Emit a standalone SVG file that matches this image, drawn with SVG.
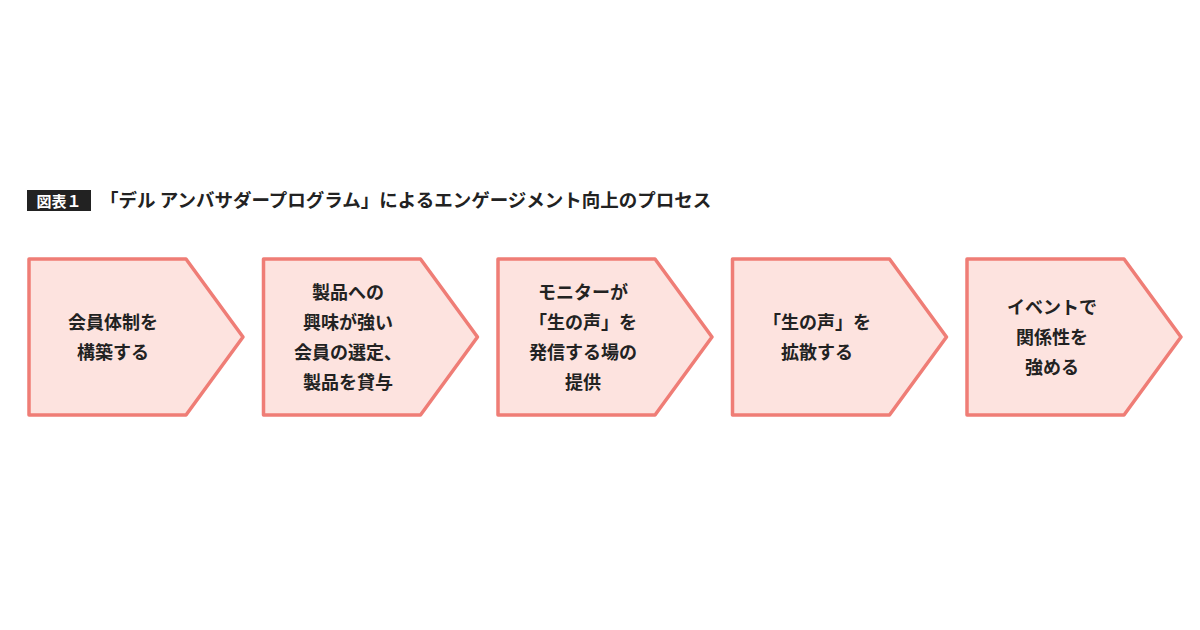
<svg xmlns="http://www.w3.org/2000/svg" width="1200" height="630" viewBox="0 0 1200 630">
<style>
.n{fill:#fde3df;stroke:#ef7d76;stroke-width:3.5;stroke-linejoin:round}
.t{font-family:"Noto Sans CJK JP",sans-serif;font-weight:bold;font-size:18px;fill:#222;text-anchor:middle}
</style>
<rect width="1200" height="630" fill="#fff"/>
<g id="title">
<rect x="27" y="190" width="64" height="21" fill="#222"/>
<text x="59" y="206.5" font-family="Noto Sans CJK JP,sans-serif" font-weight="bold" font-size="15" fill="#fff" text-anchor="middle">図表１</text>
<text x="100" y="207" font-family="Noto Sans CJK JP,sans-serif" font-weight="bold" font-size="18.5" fill="#222">「デル アンバサダープログラム」によるエンゲージメント向上のプロセス</text>
</g>
<g id="n1"><path class="n" d="M29 259 H186 L243 337 L186 415 H29 Z"/>
<text class="t" x="113" y="329">会員体制を</text><text class="t" x="113" y="359">構築する</text></g>
<g id="n2"><path class="n" d="M263.5 259 H420.5 L477.5 337 L420.5 415 H263.5 Z"/>
<text class="t" x="348" y="299">製品への</text><text class="t" x="348" y="329">興味が強い</text><text class="t" x="348" y="359">会員の選定、</text><text class="t" x="348" y="389">製品を貸与</text></g>
<g id="n3"><path class="n" d="M498 259 H655 L712 337 L655 415 H498 Z"/>
<text class="t" x="583" y="299">モニターが</text><text class="t" x="583" y="329">「生の声」を</text><text class="t" x="583" y="359">発信する場の</text><text class="t" x="583" y="389">提供</text></g>
<g id="n4"><path class="n" d="M732.5 259 H889.5 L946.5 337 L889.5 415 H732.5 Z"/>
<text class="t" x="817" y="329">「生の声」を</text><text class="t" x="817" y="359">拡散する</text></g>
<g id="n5"><path class="n" d="M967 259 H1124 L1181 337 L1124 415 H967 Z"/>
<text class="t" x="1052" y="314">イベントで</text><text class="t" x="1052" y="344">関係性を</text><text class="t" x="1052" y="374">強める</text></g>
<g id="connectors"/>
</svg>
